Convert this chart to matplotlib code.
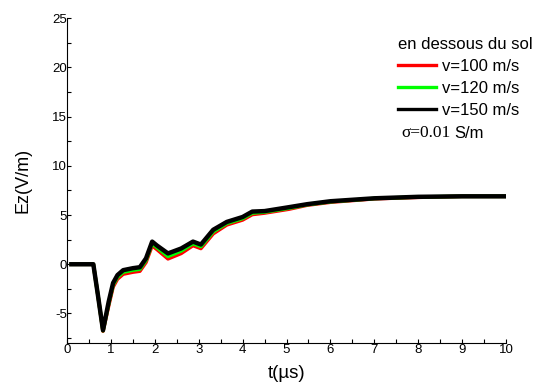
import numpy as np
import matplotlib.pyplot as plt
from matplotlib.lines import Line2D

plt.rcParams['font.family'] = ['Liberation Sans', 'DejaVu Sans']
plt.rcParams['axes.unicode_minus'] = False

# time (us)
t = [0.1, 0.6, 0.7, 0.82, 0.95, 1.05, 1.15, 1.28, 1.5, 1.66, 1.8, 1.94, 2.05, 2.3,
     2.6, 2.87, 3.05, 3.33, 3.64, 4.0, 4.22, 4.5, 5.06, 5.47, 6.0, 7.0, 8.0, 9.0, 10.0]
# Ez (V/m)
ez_150 = [0, 0, -3.0, -6.7, -3.8, -1.9, -1.1, -0.6, -0.4, -0.3, 0.6, 2.3, 1.9, 1.1,
          1.6, 2.3, 2.0, 3.5, 4.3, 4.8, 5.35, 5.4, 5.8, 6.1, 6.4, 6.7, 6.85, 6.9, 6.9]
ez_120 = [0, 0, -3.0, -6.75, -4.0, -2.1, -1.3, -0.8, -0.6, -0.5, 0.4, 2.1, 1.7, 0.8,
          1.35, 2.1, 1.8, 3.3, 4.15, 4.65, 5.2, 5.3, 5.7, 6.05, 6.35, 6.68, 6.83, 6.9, 6.9]
ez_100 = [0, 0, -3.0, -6.8, -4.2, -2.3, -1.5, -1.0, -0.8, -0.7, 0.2, 1.9, 1.5, 0.55,
          1.1, 1.9, 1.6, 3.1, 4.0, 4.5, 5.05, 5.2, 5.6, 6.0, 6.3, 6.65, 6.8, 6.9, 6.9]

labels = ['v=100 m/s', 'v=120 m/s', 'v=150 m/s']
colors = ['#ff0000', '#00ff00', '#000000']

fig = plt.figure(figsize=(5.42, 3.85), dpi=100)
ax = fig.add_axes([0.1236, 0.109, 0.81, 0.844])

ax.plot(t, ez_100, color=colors[0], lw=2.6)
ax.plot(t, ez_120, color=colors[1], lw=2.6)
ax.plot(t, ez_150, color=colors[2], lw=3.2)

ax.set_xlim(0, 10)
ax.set_ylim(-8, 25)
ax.set_xticks(range(0, 11))
ax.set_xticks(np.arange(0, 10.01, 0.5), minor=True)
ax.set_yticks([-5, 0, 5, 10, 15, 20, 25])
ax.set_yticks(np.arange(-7.5, 25.01, 2.5), minor=True)
ax.spines['top'].set_visible(False)
ax.spines['right'].set_visible(False)
ax.tick_params(which='both', direction='in', length=3, width=0.8, labelsize=9.5)
ax.tick_params(axis='y', pad=0)
ax.tick_params(axis='x', pad=1)

ax.set_xlabel('t(µs)', fontsize=13.5)
ax.set_ylabel('Ez(V/m)', fontsize=13)
ax.xaxis.set_label_coords(0.5, -0.068)
ax.yaxis.set_label_coords(-0.08, 0.5)

handles = [Line2D([], [], color=c, lw=2.4) for c in colors]
leg = fig.legend(handles, labels, title='en dessous du sol', frameon=False,
                 loc='upper left', bbox_to_anchor=(398 / 542, 1 - 37 / 385),
                 fontsize=12, title_fontsize=12, alignment='left',
                 handlelength=2.3, handletextpad=0.35, labelspacing=0.42,
                 borderaxespad=0, borderpad=0)

fig.canvas.draw()
s1 = fig.text(401 / 542, 1 - 133 / 385, 'σ=0.01', fontsize=12.5,
              family='Liberation Serif', va='center')
r = fig.canvas.get_renderer()
bb = s1.get_window_extent(r)
fig.text((bb.x1 + 4) / 542, 1 - 133 / 385, 'S/m', fontsize=12, va='center')

fig.savefig('out.png', dpi=100)
